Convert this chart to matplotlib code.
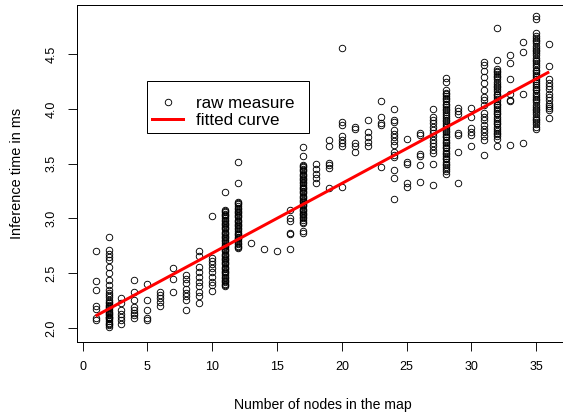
import numpy as np
import matplotlib
matplotlib.use('Agg')
import matplotlib.pyplot as plt
from matplotlib.lines import Line2D

plt.rcParams['font.family'] = ['Liberation Sans', 'DejaVu Sans']

# inference times (ms) measured for each map size (number of nodes)
t01 = [2.70, 2.43, 2.35, 2.20, 2.17, 2.09, 2.07]
t02 = [2.83, 2.71, 2.68, 2.65, 2.62, 2.56, 2.50, 2.44, 2.39, 2.35, 2.32, 2.30,
       2.28, 2.26, 2.24, 2.23, 2.21, 2.20, 2.19, 2.18, 2.16, 2.15, 2.14, 2.13,
       2.12, 2.10, 2.10, 2.09, 2.08, 2.06, 2.05, 2.04, 2.03, 2.01]
t03 = [2.27, 2.23, 2.16, 2.13, 2.10, 2.07, 2.04]
t04 = [2.44, 2.33, 2.26, 2.19, 2.16, 2.14, 2.12, 2.09]
t05 = [2.40, 2.26, 2.16, 2.09, 2.07]
t06 = [2.33, 2.30, 2.27, 2.24, 2.20]
t07 = [2.55, 2.45, 2.33]
t08 = [2.48, 2.45, 2.41, 2.36, 2.32, 2.29, 2.26, 2.16]
t09 = [2.70, 2.66, 2.56, 2.51, 2.47, 2.42, 2.38, 2.33, 2.29, 2.23]
t10 = [3.02, 2.64, 2.61, 2.58, 2.55, 2.51, 2.47, 2.42, 2.39, 2.34]
t11 = [3.24, 3.08, 3.07, 3.06, 3.04, 3.03, 3.02, 3.00, 2.99, 2.98, 2.96, 2.95,
       2.94, 2.92, 2.91, 2.90, 2.88, 2.87, 2.86, 2.84, 2.83, 2.82, 2.80, 2.79,
       2.78, 2.76, 2.75, 2.74, 2.72, 2.71, 2.70, 2.68, 2.67, 2.66, 2.64, 2.63,
       2.62, 2.60, 2.59, 2.58, 2.56, 2.55, 2.54, 2.52, 2.51, 2.50, 2.48, 2.47,
       2.46, 2.44, 2.43, 2.42, 2.40, 2.39, 2.38]
t12 = [3.52, 3.32, 3.15, 3.14, 3.13, 3.11, 3.10, 3.09, 3.07, 3.06, 3.05, 3.03,
       3.02, 3.01, 2.99, 2.98, 2.97, 2.95, 2.94, 2.93, 2.91, 2.90, 2.89, 2.87,
       2.86, 2.85, 2.83, 2.82, 2.81, 2.79, 2.78, 2.77, 2.75, 2.74, 2.73]
t13 = [2.78]
t14 = [2.72]
t15 = [2.70]
t16 = [3.08, 3.00, 2.98, 2.87, 2.86, 2.72]
t17 = [3.65, 3.57, 3.49, 3.48, 3.47, 3.45, 3.44, 3.43, 3.41, 3.40, 3.39, 3.37,
       3.36, 3.35, 3.33, 3.32, 3.31, 3.29, 3.28, 3.27, 3.25, 3.24, 3.23, 3.21,
       3.20, 3.19, 3.17, 3.16, 3.15, 3.13, 3.12, 3.11, 3.09, 3.08, 3.07, 3.05,
       3.04, 3.03, 3.01, 3.00, 2.99, 2.97, 2.96, 2.89, 2.87]
t18 = [3.50, 3.45, 3.41, 3.37, 3.32]
t19 = [3.72, 3.66, 3.51, 3.49, 3.46, 3.28]
t20 = [4.56, 3.88, 3.85, 3.75, 3.72, 3.69, 3.66, 3.29]
t21 = [3.84, 3.82, 3.69, 3.66, 3.61]
t22 = [3.90, 3.79, 3.74, 3.70, 3.66]
t23 = [4.07, 3.93, 3.87, 3.85, 3.47]
t24 = [4.00, 3.90, 3.88, 3.81, 3.77, 3.74, 3.71, 3.67, 3.61, 3.58, 3.56,
       3.44, 3.37, 3.18]
t25 = [3.73, 3.52, 3.50, 3.32, 3.29]
t26 = [3.78, 3.76, 3.59, 3.57, 3.49, 3.33]
t27 = [4.00, 3.93, 3.90, 3.87, 3.84, 3.81, 3.78, 3.75, 3.72, 3.69, 3.66,
       3.63, 3.60, 3.50, 3.31]
t28 = [4.28, 4.25, 4.17, 4.15, 4.14, 4.12, 4.10, 4.09, 4.07, 4.05, 4.04, 4.02,
       4.00, 3.99, 3.97, 3.95, 3.94, 3.92, 3.90, 3.89, 3.87, 3.85, 3.84, 3.82,
       3.80, 3.79, 3.77, 3.75, 3.74, 3.72, 3.70, 3.69, 3.67, 3.65, 3.64, 3.62,
       3.60, 3.59, 3.57, 3.55, 3.54, 3.52, 3.50, 3.49, 3.47, 3.45, 3.43, 3.41]
t29 = [4.01, 3.98, 3.95, 3.78, 3.76, 3.61, 3.32]
t30 = [4.01, 3.93, 3.83, 3.79, 3.76, 3.66]
t31 = [4.43, 4.40, 4.35, 4.29, 4.24, 4.17, 4.11, 4.08, 4.04, 3.96, 3.93,
       3.90, 3.85, 3.82, 3.79, 3.75, 3.72, 3.58]
t32 = [4.74, 4.45, 4.37, 4.35, 4.34, 4.32, 4.30, 4.29, 4.27, 4.25, 4.23, 4.21,
       4.20, 4.18, 4.16, 4.14, 4.13, 4.11, 4.09, 4.07, 4.05, 4.04, 4.02, 4.00,
       3.98, 3.96, 3.95, 3.93, 3.91, 3.89, 3.87, 3.86, 3.84, 3.82, 3.80, 3.78,
       3.77, 3.75, 3.73, 3.66]
t33 = [4.49, 4.42, 4.27, 4.14, 4.08, 4.07, 3.67]
t34 = [4.61, 4.52, 4.14, 3.69]
t35 = [4.85, 4.82, 4.69, 4.67, 4.65, 4.63, 4.62, 4.60, 4.58, 4.56, 4.54, 4.53,
       4.51, 4.49, 4.47, 4.45, 4.44, 4.42, 4.40, 4.38, 4.36, 4.35, 4.33, 4.31,
       4.29, 4.27, 4.26, 4.24, 4.22, 4.20, 4.18, 4.17, 4.15, 4.13, 4.11, 4.09,
       4.08, 4.06, 4.04, 4.02, 4.00, 3.99, 3.97, 3.95, 3.93, 3.91, 3.90, 3.88,
       3.86, 3.84, 3.82]
t36 = [4.59, 4.39, 4.27, 4.24, 4.21, 4.18, 4.14, 4.11, 4.08, 4.05, 4.03,
       4.01, 3.99, 3.92]

columns = [t01, t02, t03, t04, t05, t06, t07, t08, t09, t10, t11, t12,
           t13, t14, t15, t16, t17, t18, t19, t20, t21, t22, t23, t24,
           t25, t26, t27, t28, t29, t30, t31, t32, t33, t34, t35, t36]
node_counts = list(range(1, 37))

# linear fit: time = intercept + slope * nodes
fit_intercept = 2.046
fit_slope = 0.0637

nodes = np.concatenate([[n] * len(c) for n, c in zip(node_counts, columns)])
times = np.concatenate(columns)

W, H = 563, 418
fig = plt.figure(figsize=(W / 72, H / 72), dpi=72)
ax = fig.add_axes([77.2 / W, 76 / H, 490.4 / W, 337 / H])

ax.plot(nodes, times, linestyle='none', marker='o', markersize=6.5,
        markerfacecolor='none', markeredgecolor='black', markeredgewidth=0.9,
        clip_on=False)
xs = np.array([node_counts[0], node_counts[-1]])
ax.plot(xs, fit_intercept + fit_slope * xs, color='red', linewidth=3,
        solid_capstyle='butt')

ax.set_xlim(-0.417, 37.42)
ax.set_ylim(1.872, 4.950)
ax.set_xticks([0, 5, 10, 15, 20, 25, 30, 35])
ax.set_yticks([2.0, 2.5, 3.0, 3.5, 4.0, 4.5])
ax.set_yticklabels(['2.0', '2.5', '3.0', '3.5', '4.0', '4.5'])
ax.tick_params(axis='both', direction='out', length=9, width=0.9,
               labelsize=12.5)
ax.tick_params(axis='x', pad=10)
ax.tick_params(axis='y', pad=11)
for lbl in ax.get_yticklabels():
    lbl.set_rotation(90)
    lbl.set_rotation_mode('default')
    lbl.set_ha('right')
    lbl.set_va('center')
for sp in ax.spines.values():
    sp.set_linewidth(1.0)

ax.set_xlabel('Number of nodes in the map', fontsize=14, labelpad=25)
ax.set_ylabel('Inference time in ms', fontsize=14.5, labelpad=21)

handles = [
    Line2D([], [], linestyle='none', marker='o', markersize=6.5,
           markerfacecolor='none', markeredgecolor='black', markeredgewidth=0.9),
    Line2D([], [], color='red', linewidth=3),
]
leg = ax.legend(handles, ['raw measure  ', 'fitted curve  '], loc='upper left',
                bbox_to_anchor=(0.1417, 0.7745), borderaxespad=0,
                fontsize=17, handlelength=1.86, handletextpad=0.75,
                labelspacing=0.15, borderpad=0.3, fancybox=False,
                edgecolor='black', framealpha=1,
                title=' ', title_fontsize=7)
leg.get_frame().set_linewidth(1.0)

fig.savefig('out.png', dpi=72)
